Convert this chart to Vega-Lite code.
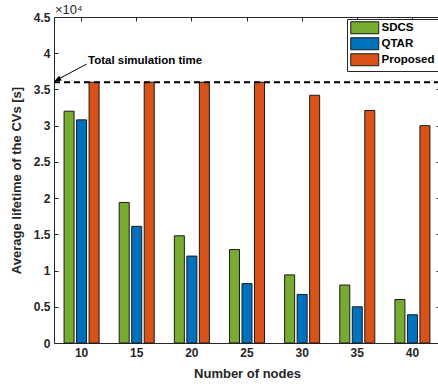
{
  "$schema": "https://vega.github.io/schema/vega-lite/v6.json",
  "width": 386,
  "height": 326,
  "autosize": {"type": "none"},
  "padding": {"left": 54, "top": 17, "right": 0, "bottom": 45},
  "background": "white",
  "config": {
    "font": "Liberation Sans",
    "view": {"stroke": "#262626", "strokeWidth": 1},
    "axis": {
      "domainColor": "#262626",
      "tickColor": "#262626",
      "labelColor": "#262626",
      "titleColor": "#262626",
      "labelFont": "Liberation Sans",
      "titleFont": "Liberation Sans",
      "labelFontWeight": "bold",
      "labelFontSize": 12,
      "titleFontWeight": "bold",
      "titleFontSize": 13,
      "grid": false
    }
  },
  "datasets": {
    "bars": [
      {"nodes": "10", "method": "SDCS", "lifetime": 32000},
      {"nodes": "10", "method": "QTAR", "lifetime": 30800},
      {"nodes": "10", "method": "Proposed", "lifetime": 36000},
      {"nodes": "15", "method": "SDCS", "lifetime": 19400},
      {"nodes": "15", "method": "QTAR", "lifetime": 16100},
      {"nodes": "15", "method": "Proposed", "lifetime": 36000},
      {"nodes": "20", "method": "SDCS", "lifetime": 14800},
      {"nodes": "20", "method": "QTAR", "lifetime": 12000},
      {"nodes": "20", "method": "Proposed", "lifetime": 36000},
      {"nodes": "25", "method": "SDCS", "lifetime": 12900},
      {"nodes": "25", "method": "QTAR", "lifetime": 8200},
      {"nodes": "25", "method": "Proposed", "lifetime": 36000},
      {"nodes": "30", "method": "SDCS", "lifetime": 9400},
      {"nodes": "30", "method": "QTAR", "lifetime": 6700},
      {"nodes": "30", "method": "Proposed", "lifetime": 34200},
      {"nodes": "35", "method": "SDCS", "lifetime": 8000},
      {"nodes": "35", "method": "QTAR", "lifetime": 5000},
      {"nodes": "35", "method": "Proposed", "lifetime": 32100},
      {"nodes": "40", "method": "SDCS", "lifetime": 6000},
      {"nodes": "40", "method": "QTAR", "lifetime": 3900},
      {"nodes": "40", "method": "Proposed", "lifetime": 30000}
    ]
  },
  "resolve": {"scale": {"x": "independent"}, "axis": {"x": "independent", "y": "independent"}},
  "layer": [
    {
      "data": {"name": "bars"},
      "mark": {"type": "bar", "stroke": "#1a1a1a", "strokeWidth": 1},
      "encoding": {
        "x": {
          "field": "nodes",
          "type": "nominal",
          "sort": ["10", "15", "20", "25", "30", "35", "40"],
          "scale": {"paddingInner": 0.365, "paddingOuter": 0.1825},
          "axis": {"title": "Number of nodes", "labelAngle": 0, "tickSize": -4, "labelPadding": 8, "titlePadding": 9, "domain": false}
        },
        "xOffset": {
          "field": "method",
          "type": "nominal",
          "sort": ["SDCS", "QTAR", "Proposed"],
          "scale": {"paddingInner": 0.2, "paddingOuter": 0}
        },
        "y": {
          "field": "lifetime",
          "type": "quantitative",
          "scale": {"domain": [0, 45000], "nice": false},
          "axis": {
            "title": "Average lifetime of the CVs [s]",
            "values": [0, 5000, 10000, 15000, 20000, 25000, 30000, 35000, 40000, 45000],
            "labelExpr": "datum.value / 10000",
            "tickSize": -4,
            "labelPadding": 8,
            "titlePadding": 10,
            "domain": false
          }
        },
        "color": {
          "field": "method",
          "type": "nominal",
          "sort": ["SDCS", "QTAR", "Proposed"],
          "scale": {"domain": ["SDCS", "QTAR", "Proposed"], "range": ["#77AC30", "#0072BD", "#D95319"]},
          "legend": {
            "title": null,
            "orient": "top-right",
            "offset": 2,
            "fillColor": "white",
            "strokeColor": "#262626",
            "padding": 3,
            "symbolType": "M-2.8,-1.2L2.8,-1.2L2.8,1.2L-2.8,1.2Z",
            "symbolSize": 100,
            "symbolOffset": 9,
            "symbolStrokeColor": "#1a1a1a",
            "symbolStrokeWidth": 1,
            "symbolOpacity": 1,
            "labelFontSize": 11.5,
            "labelFontWeight": "bold",
            "labelColor": "#000000",
            "labelFont": "Liberation Sans",
            "labelOffset": 11,
            "rowPadding": -1
          }
        }
      }
    },
    {
      "data": {"name": "bars"},
      "mark": {"type": "bar", "opacity": 0},
      "encoding": {
        "x": {
          "field": "nodes",
          "type": "nominal",
          "sort": ["10", "15", "20", "25", "30", "35", "40"],
          "scale": {"paddingInner": 0.365, "paddingOuter": 0.1825},
          "axis": {"orient": "top", "title": null, "labels": false, "tickSize": -4, "domain": false}
        },
        "y": {
          "field": "lifetime",
          "type": "quantitative",
          "scale": {"domain": [0, 45000], "nice": false},
          "axis": {
            "orient": "right",
            "title": null,
            "labels": false,
            "values": [0, 5000, 10000, 15000, 20000, 25000, 30000, 35000, 40000, 45000],
            "tickSize": -4,
            "domain": false
          }
        }
      }
    },
    {
      "data": {"values": [{}]},
      "mark": {"type": "rule", "color": "#000000", "strokeWidth": 2, "strokeDash": [6, 4]},
      "encoding": {
        "y": {"datum": 36000, "type": "quantitative", "scale": {"domain": [0, 45000], "nice": false}, "axis": null}
      }
    },
    {
      "data": {"values": [{}]},
      "mark": {"type": "text", "text": "Total simulation time", "align": "left", "baseline": "middle", "fontSize": 11.5, "fontWeight": "bold", "color": "#000000", "font": "Liberation Sans"},
      "encoding": {
        "x": {"datum": 10.58, "type": "quantitative", "scale": {"domain": [7.5, 42.5], "nice": false, "zero": false}, "axis": null},
        "y": {"datum": 38900, "type": "quantitative", "scale": {"domain": [0, 45000], "nice": false}, "axis": null}
      }
    },
    {
      "data": {"values": [{}]},
      "mark": {"type": "text", "text": "×10⁴", "align": "left", "baseline": "middle", "fontSize": 13, "fontWeight": "normal", "color": "#262626", "font": "Liberation Sans"},
      "encoding": {
        "x": {"datum": 7.59, "type": "quantitative", "scale": {"domain": [7.5, 42.5], "nice": false, "zero": false}, "axis": null},
        "y": {"datum": 46000, "type": "quantitative", "scale": {"domain": [0, 45000], "nice": false}, "axis": null}
      }
    },
    {
      "data": {"values": [{}]},
      "mark": {"type": "rule", "color": "#000000", "strokeWidth": 1},
      "encoding": {
        "x": {"datum": 10.45, "type": "quantitative", "scale": {"domain": [7.5, 42.5], "nice": false, "zero": false}, "axis": null},
        "x2": {"datum": 7.75},
        "y": {"datum": 38500, "type": "quantitative", "scale": {"domain": [0, 45000], "nice": false}, "axis": null},
        "y2": {"datum": 36300}
      }
    },
    {
      "data": {"values": [{}]},
      "mark": {"type": "point", "shape": "M0,-1L0.7,1L-0.7,1Z", "filled": true, "color": "#000000", "size": 60, "opacity": 1, "angle": 240},
      "encoding": {
        "x": {"datum": 7.78, "type": "quantitative", "scale": {"domain": [7.5, 42.5], "nice": false, "zero": false}, "axis": null},
        "y": {"datum": 36300, "type": "quantitative", "scale": {"domain": [0, 45000], "nice": false}, "axis": null}
      }
    }
  ]
}
